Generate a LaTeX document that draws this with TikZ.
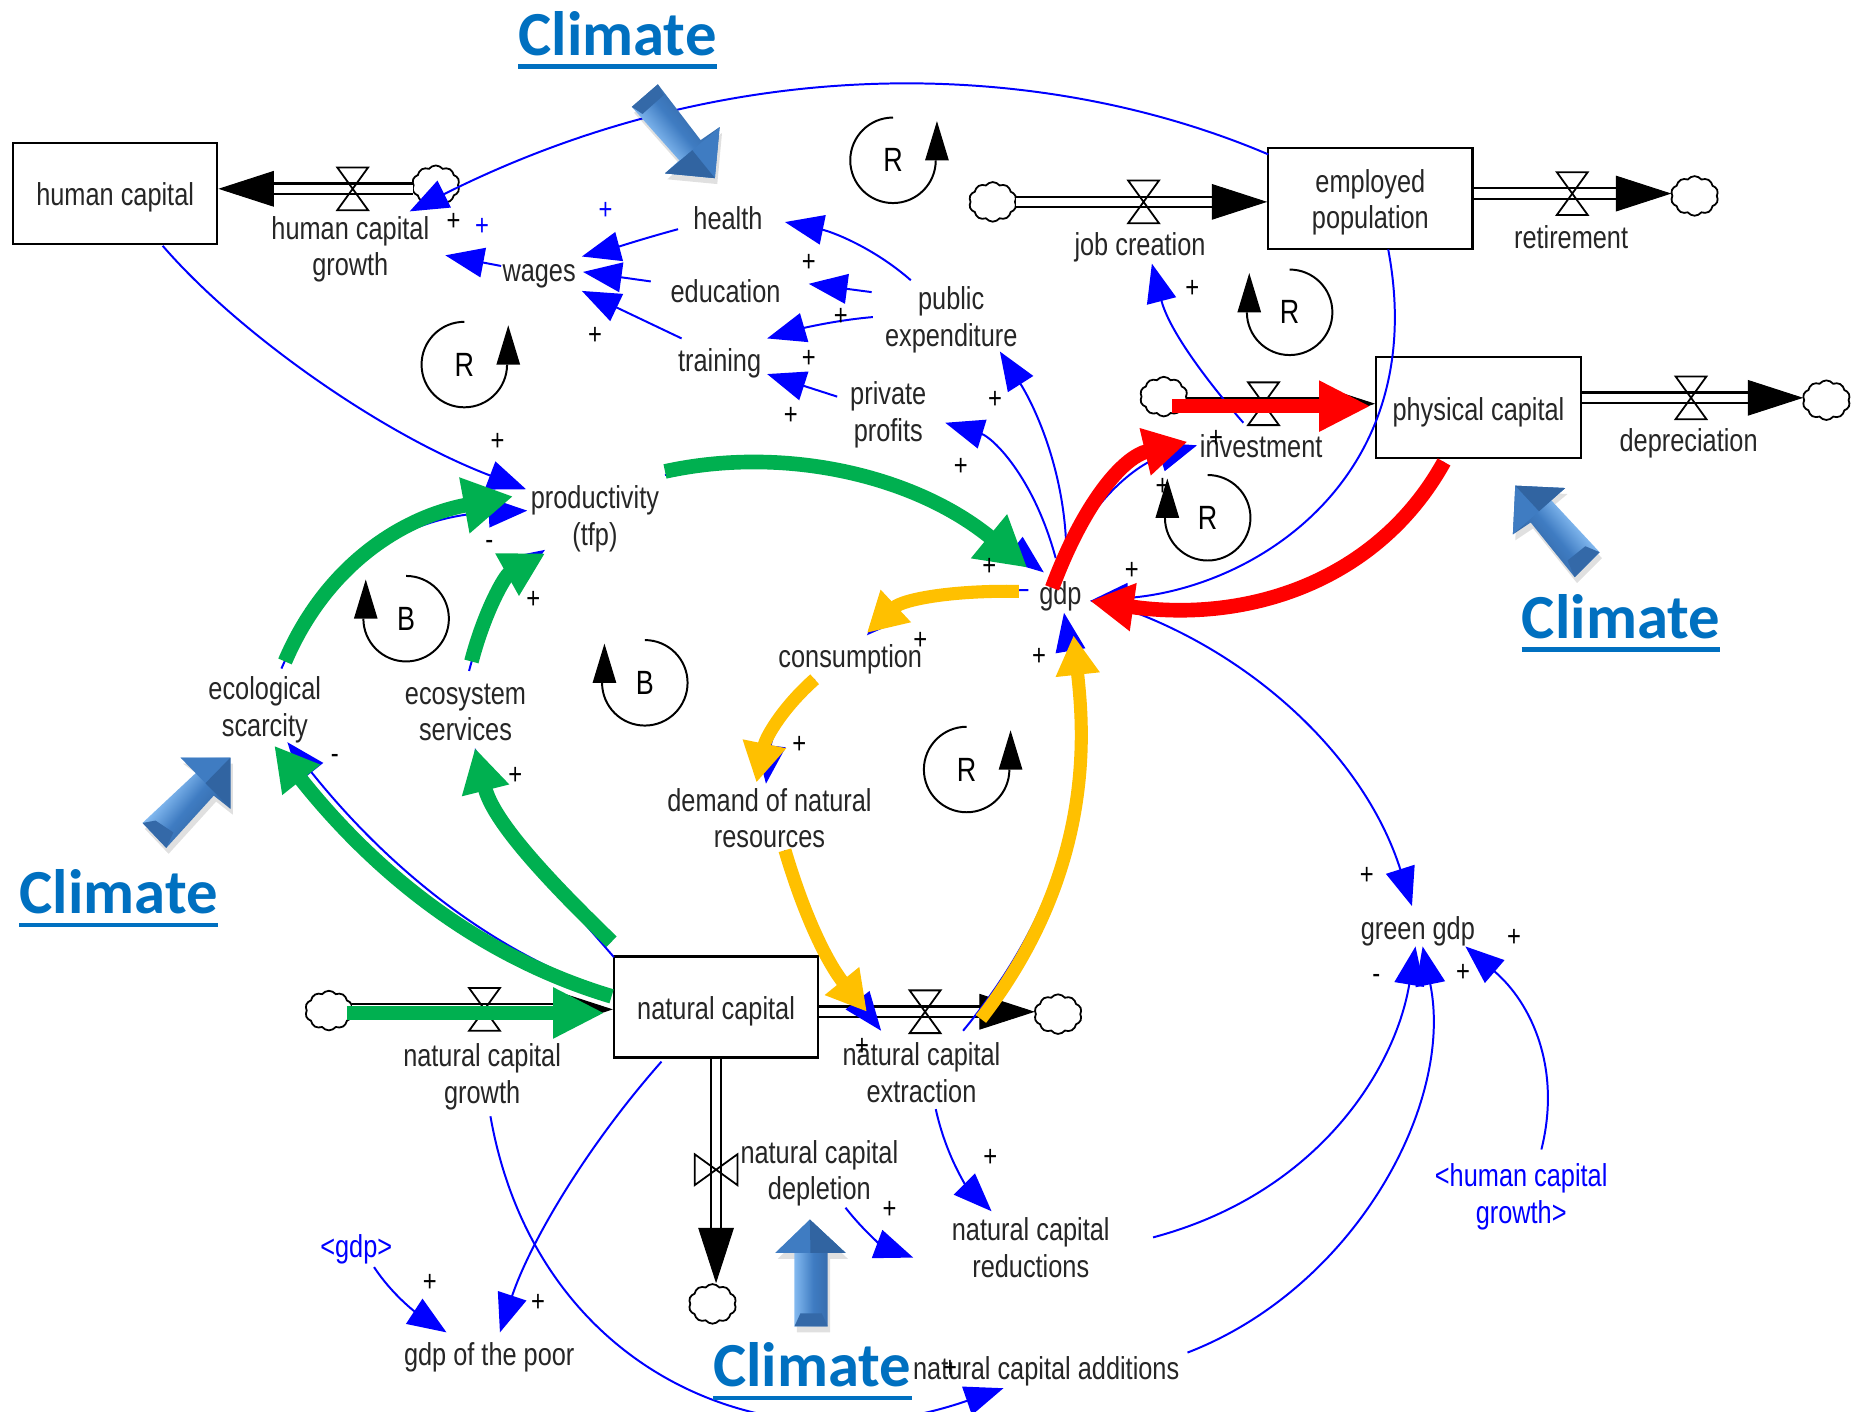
\documentclass[tikz,border=0pt]{standalone}
\usepackage{fontspec}
\setmainfont{Liberation Sans}
\newfontfamily\lblfont[FakeStretch=0.8]{Liberation Sans}
\newfontfamily\climfont{Carlito}
\usetikzlibrary{arrows.meta,calc,shapes.symbols}
\definecolor{cgreen}{HTML}{00B050}
\definecolor{cred}{HTML}{FF0000}
\definecolor{corange}{HTML}{FFC000}
\definecolor{climblue}{HTML}{0070C0}
\definecolor{adark}{HTML}{2C5C96}
\definecolor{amid}{HTML}{3F7CC2}
\definecolor{alight}{HTML}{86BCF2}
\pgfdeclarehorizontalshading{climshade}{100bp}{color(0bp)=(amid);color(25bp)=(amid);color(38bp)=(alight);color(52bp)=(amid);color(75bp)=(adark);color(100bp)=(adark)}
\tikzset{
  lbl/.style={font=\lblfont\fontsize{16}{18.6}\selectfont,align=center,inner sep=0pt,text=black!85},
  ghost/.style={lbl,text=blue},
  stock/.style={draw=black,line width=1.1pt,minimum width=103.2pt,minimum height=51pt,inner sep=0pt},
  sgn/.style={font=\lblfont\fontsize{15}{15}\selectfont,inner sep=0pt},
  bsgn/.style={sgn,text=blue},
  looplbl/.style={font=\lblfont\fontsize{17}{17}\selectfont,inner sep=0pt},
  loopline/.style={line width=1pt,draw=black},
  cloudnode/.style={cloud,cloud puffs=10,cloud puff arc=105,aspect=1.2,draw=black,fill=white,line width=.9pt,inner sep=0pt,minimum width=24pt,minimum height=20pt},
  flowline/.style={draw=black,line width=1.1pt,double=white,double distance=4.2pt,shorten >=20pt},
  flowtip/.style={draw=black,line width=.5pt,-{Triangle[length=28pt,width=18pt,fill=black]}},
  lnk/.style={draw=blue,line width=1pt,-{Triangle[length=19.5pt,width=15pt,fill=blue]}},
  thickgreen/.style={draw=cgreen,line width=7.4pt,-{Triangle[length=22pt,width=23pt,fill=cgreen]}},
  thickred/.style={draw=cred,line width=7.4pt,-{Triangle[length=22pt,width=23pt,fill=cred]}},
  thickor/.style={draw=corange,line width=6.6pt,-{Triangle[length=20pt,width=21pt,fill=corange]}},
  climlbl/.style={font=\climfont\bfseries\fontsize{31.7}{31.7}\selectfont,text=climblue,inner sep=0pt},
  climrule/.style={draw=climblue,line width=2.2pt},
  valvepic/.pic={\draw[line width=.9pt] (-13,-18) -- (13,-18) -- (-13,18) -- (13,18) -- cycle;},
  valverot/.pic={\draw[line width=.9pt] (-18,-13) -- (-18,13) -- (18,-13) -- (18,13) -- cycle;},
}
\newcommand\flowrun[2]{\coordinate (fa) at (#1); \coordinate (fb) at (#2);
  \draw[flowline] (fa) -- (fb);
  \draw[flowtip] ($(fb)!27pt!(fa)$) -- (fb);}
\newcommand\loopright[3]{\node[looplbl] (#1) at (#2) {#3};
  \draw[loopline] ($(#1)+(0,-36)$) arc[start angle=-90,end angle=-360,radius=36];
  \fill ($(#1)+(37,-33)$) -- ($(#1)+(47,0)$) -- ($(#1)+(27,0)$) -- cycle;}
\newcommand\loopleft[3]{\node[looplbl] (#1) at (#2) {#3};
  \draw[loopline] ($(#1)+(0,-36)$) arc[start angle=-90,end angle=180,radius=36];
  \fill ($(#1)+(-34,-33)$) -- ($(#1)+(-24,0)$) -- ($(#1)+(-44,0)$) -- cycle;}
% angle, outline, head H1/tip/H2, tail bevel
\newcommand\climarrow[6]{%
  \fill[black,opacity=.12,shift={(2,5)}] #2 -- cycle;
  \shade[shading=climshade,shading angle=#1] #2 -- cycle;
  \fill[amid] #3 -- #4 -- #5 -- cycle;
  \fill[adark!75!amid] #4 -- #5 -- ($#3!.5!#5$) -- cycle;
  \fill[adark!60!amid] #6 -- cycle;}
\newcommand\climtext[2]{\node[climlbl] (#1) at (#2) {Climate};
  \draw[climrule] ($(#1.south west)+(0,9)$) -- ($(#1.south east)+(0,9)$);}
\begin{document}
\begin{tikzpicture}[x=0.6pt,y=-0.6pt]
\useasboundingbox (0,0) rectangle (1568,1189);
\fill[white] (0,0) rectangle (1568,1189);
% stocks
\node[stock,label={[lbl,name=hcT,yshift=-1.8pt]center:human capital}] (hc) at (97,163) {};
\node[stock,label={[lbl,name=empT,yshift=-2pt]center:employed\\population}] (emp) at (1154,167) {};
\node[stock,label={[lbl,name=physT,yshift=-2.4pt]center:physical capital}] (phys) at (1245,343) {};
\node[stock,label={[lbl,name=natT,yshift=-2.4pt]center:natural capital}] (nat) at (603,848) {};
% clouds
\node[cloudnode] (c1) at (367,156) {};
\node[cloudnode] (c2) at (836,170) {};
\node[cloudnode] (c3) at (1427,165) {};
\node[cloudnode] (c4) at (980,334) {};
\node[cloudnode] (c5) at (1538,337) {};
\node[cloudnode] (c6) at (277,851) {};
\node[cloudnode] (c7) at (891,854) {};
\node[cloudnode] (c8) at (600,1098) {};
% labels
\node[lbl] (hcg) at (295,210) {human capital\\growth};
\node[lbl] (wages) at (454,233) {wages};
\node[lbl] (health) at (613,184) {health};
\node[lbl] (education) at (611,245) {education};
\node[lbl] (training) at (606,306) {training};
\node[lbl] (pubex) at (801,269) {public\\expenditure};
\node[lbl] (profits) at (748,349) {private\\profits};
\node[lbl] (job) at (960,208) {job creation};
\node[lbl] (retire) at (1323,200) {retirement};
\node[lbl] (invest) at (1062,376) {investment};
\node[lbl] (deprec) at (1422,373) {depreciation};
\node[lbl] (prod) at (501,437) {productivity\\(tfp)};
\node[lbl] (gdp) at (893,502) {gdp};
\node[lbl] (cons) at (716,555) {consumption};
\node[lbl] (demand) at (648,689) {demand of natural\\resources};
\node[lbl] (eco) at (223,598) {ecological\\scarcity};
\node[lbl] (ess) at (392,600) {ecosystem\\services};
\node[lbl] (green) at (1194,784) {green gdp};
\node[lbl] (ncg) at (406,907) {natural capital\\growth};
\node[lbl] (nce) at (776,903) {natural capital\\extraction};
\node[lbl] (ncd) at (690,988) {natural capital\\depletion};
\node[lbl] (ncr) at (868,1051) {natural capital\\reductions};
\node[lbl] (nca) at (881,1155) {natural capital additions};
\node[lbl] (gdpp) at (412,1143) {gdp of the poor};
\node[ghost] (ggdp) at (300,1052) {<gdp>};
\node[ghost] (ghc) at (1281,1008) {<human capital\\growth>};
% valves
\coordinate (v1) at (297,159);
\coordinate (v2) at (963,170);
\coordinate (v3) at (1324,163);
\coordinate (v4) at (1064,340);
\coordinate (v5) at (1424,335);
\coordinate (v6) at (408,850);
\coordinate (v7) at (779,852);
\coordinate (v8) at (603,985);
% material flows
\flowrun{c1.west |- v1}{hc.east |- v1}
\flowrun{c2.east |- v2}{emp.west |- v2}
\flowrun{emp.east |- v3}{c3.west |- v3}
\flowrun{c4.east |- v4}{phys.west |- v4}
\flowrun{phys.east |- v5}{c5.west |- v5}
\flowrun{c6.east |- v6}{nat.west |- v6}
\flowrun{nat.east |- v7}{c7.west |- v7}
\flowrun{v8 |- nat.south}{v8 |- c8.north}
\foreach \v in {v1,v2,v3,v4,v5,v6,v7} \pic at (\v) {valvepic};
\pic at (v8) {valverot};
% causal links
\draw[lnk] ($(emp)+(-86,-37)$) .. controls (880,50) and (620,40) .. ($(hcg)+(50,-32)$);
\draw[lnk] ($(hc)+(40,44)$) .. controls (200,280) and (320,365) .. ($(prod)+(-58,-25)$);
\draw[lnk] ($(health)+(-42,9)$) .. controls (545,200) and (520,208) .. ($(wages)+(36,-17)$);
\draw[lnk] ($(education)+(-63,-8)$) -- ($(wages)+(37,-4)$);
\draw[lnk] ($(training)+(-32,-21)$) -- ($(wages)+(36,12)$);
\draw[lnk] ($(wages)+(-32,-9)$) -- ($(hcg)+(80,5)$);
\draw[lnk] ($(pubex)+(-34,-33)$) .. controls (735,208) and (700,195) .. ($(health)+(48,3)$);
\draw[lnk] ($(pubex)+(-67,-23)$) -- ($(education)+(70,-6)$);
\draw[lnk] ($(pubex)+(-66,-2)$) .. controls (700,270) and (670,278) .. ($(training)+(40,-21)$);
\draw[lnk] ($(profits)+(-43,-15)$) -- ($(training)+(40,9)$);
\draw[lnk] ($(gdp)+(5,-24)$) .. controls (900,400) and (870,340) .. ($(pubex)+(41,27)$);
\draw[lnk] ($(gdp)+(-4,-32)$) .. controls (870,400) and (835,368) .. ($(profits)+(48,7)$);
\draw[lnk] ($(prod)+(59,-37)$) .. controls (660,378) and (780,405) .. ($(gdp)+(-14,-20)$);
\draw[lnk] ($(gdp)+(-7,-7)$) .. controls (915,420) and (960,390) .. ($(invest)+(-54,-1)$);
\draw[lnk] ($(invest)+(-15,-20)$) .. controls (1020,325) and (985,280) .. ($(job)+(10,14)$);
\draw[lnk] ($(phys)+(-29,46)$) .. controls (1160,490) and (1050,525) .. ($(gdp)+(25,4)$);
\draw[lnk] ($(emp)+(15,43)$) .. controls (1205,400) and (1060,495) .. ($(gdp)+(25,4)$);
\draw[lnk] ($(gdp)+(-27,-5)$) .. controls (800,497) and (760,505) .. ($(cons)+(14,-20)$);
\draw[lnk] ($(cons)+(-30,17)$) .. controls (660,595) and (650,620) .. ($(demand)+(-3,-29)$);
\draw[lnk] ($(demand)+(13,27)$) .. controls (680,780) and (705,820) .. ($(nce)+(-34,-35)$);
\draw[lnk] ($(nce)+(35,-35)$) .. controls (925,730) and (912,610) .. ($(gdp)+(3,14)$);
\draw[lnk] ($(nat)+(-88,-12)$) .. controls (395,795) and (310,710) .. ($(eco)+(19,27)$);
\draw[lnk] ($(nat)+(-86,-42)$) .. controls (455,735) and (415,690) .. ($(ess)+(8,30)$);
\draw[lnk] ($(eco)+(14,-35)$) .. controls (275,475) and (340,435) .. ($(prod)+(-57,-7)$);
\draw[lnk] ($(ess)+(3,-35)$) .. controls (408,515) and (425,485) .. ($(prod)+(-42,26)$);
\draw[lnk] ($(gdp)+(61,13)$) .. controls (1060,555) and (1150,640) .. ($(green)+(-5,-21)$);
\draw[lnk] ($(ncr)+(103,-9)$) .. controls (1110,1005) and (1175,900) .. ($(green)+(-2,13)$);
\draw[lnk] ($(nca)+(119,-16)$) .. controls (1140,1085) and (1225,930) .. ($(green)+(4,13)$);
\draw[lnk] ($(ghc)+(17,-40)$) .. controls (1315,900) and (1290,845) .. ($(green)+(40,13)$);
\draw[lnk] ($(nce)+(12,31)$) .. controls (797,975) and (815,1000) .. ($(ncr)+(-33,-31)$);
\draw[lnk] ($(ncd)+(22,29)$) .. controls (730,1040) and (745,1050) .. ($(ncr)+(-99,8)$);
\draw[lnk] ($(ggdp)+(15,15)$) .. controls (330,1090) and (350,1105) .. ($(gdpp)+(-36,-21)$);
\draw[lnk] ($(nat)+(-46,46)$) .. controls (490,970) and (445,1050) .. ($(gdpp)+(9,-21)$);
\draw[lnk] ($(ncg)+(7,33)$) .. controls (450,1150) and (640,1240) .. ($(nca)+(-36,14)$);
% highlighted links
\draw[thickgreen,-{Triangle[length=25pt,width=27pt,fill=cgreen]}] ($(prod)+(59,-40)$) .. controls (660,375) and (770,400) .. ($(gdp)+(-28,-24)$);
\draw[thickgreen] ($(nat)+(-88,-9)$) .. controls (385,800) and (300,715) .. ($(eco)+(8,30)$);
\draw[thickgreen] ($(nat)+(-88,-55)$) .. controls (455,735) and (415,690) .. ($(ess)+(8,30)$);
\draw[thickgreen,-{Triangle[length=25pt,width=27pt,fill=cgreen]}] ($(eco)+(17,-41)$) .. controls (275,475) and (340,435) .. ($(prod)+(-69,-19)$);
\draw[thickgreen] ($(ess)+(5,-43)$) .. controls (408,515) and (425,485) .. ($(prod)+(-42,29)$);
\draw[thickgreen,-{Triangle[length=26pt,width=24pt,fill=cgreen]}] ($(c6)+(15,2)$) -- ($(nat.west)+(-7,5)$);
\draw[thickred] ($(gdp)+(-7,-7)$) .. controls (912,425) and (945,385) .. ($(invest)+(-62,-4)$);
\draw[thickred] ($(phys)+(-29,46)$) .. controls (1160,490) and (1050,525) .. ($(gdp)+(25,4)$);
\draw[thickred,-{Triangle[length=26pt,width=24pt,fill=cred]}] ($(c4)+(7,8)$) -- ($(phys.west)+(-4,-1)$);
\draw[thickor] ($(gdp)+(-35,-4)$) .. controls (800,497) and (760,505) .. ($(cons)+(14,-22)$);
\draw[thickor] ($(cons)+(-30,17)$) .. controls (660,595) and (645,620) .. ($(demand)+(-11,-30)$);
\draw[thickor] ($(demand)+(13,27)$) .. controls (680,780) and (700,815) .. ($(nce)+(-46,-51)$);
\draw[thickor] ($(nce)+(50,-45)$) .. controls (925,730) and (912,610) .. ($(gdp)+(11,33)$);
% polarity signs
\foreach \x/\y [count=\i] in {382/187,501/283,681/221,708/267,681/302,666/350,419/372,838/337,809/393,1004/243,833/477,953/481,1024/370,979/410,449/505,775/540,875/553,673/627,434/653,1151/738,1232/819,1275/790,726/882,834/975,749/1019,362/1080,453/1097,800/1153}
  \node[sgn] (p\i) at (\x,\y) {+};
\node[bsgn] (q1) at (406,191) {+};
\node[bsgn] (q2) at (510,178) {+};
\node[sgn] (m1) at (412,459) {-};
\node[sgn] (m2) at (282,639) {-};
\node[sgn] (m3) at (1159,824) {-};
% loops
\loopright{L1}{752,135}{R}
\loopleft{L2}{1086,263}{R}
\loopright{L3}{391,307}{R}
\loopleft{L4}{1017,436}{R}
\loopleft{L5}{342,521}{B}
\loopleft{L6}{543,575}{B}
\loopright{L7}{814,648}{R}
% climate arrows
\climarrow{40}{(532,90) -- (554,71) -- (590,118) -- (606,107) -- (602,150) -- (560,146) -- (572,135)}{(606,107)}{(602,150)}{(560,146)}{(532,90) -- (554,71) -- (559,80) -- (541,96)}
\climarrow{220}{(1347,465) -- (1306,421) -- (1318,411) -- (1276,409) -- (1274,450) -- (1289,440) -- (1326,486)}{(1274,450)}{(1276,409)}{(1318,411)}{(1347,465) -- (1326,486) -- (1320,472) -- (1335,460)}
\climarrow{-40}{(120,693) -- (167,649) -- (152,638) -- (194,638) -- (194,681) -- (180,670) -- (140,714)}{(152,638)}{(194,638)}{(194,681)}{(120,693) -- (140,714) -- (146,701) -- (131,691)}
\climarrow{0}{(669,1117) -- (669,1055) -- (653,1055) -- (682,1027) -- (712,1055) -- (697,1055) -- (697,1117)}{(653,1055)}{(682,1027)}{(712,1055)}{(669,1117) -- (697,1117) -- (692,1106) -- (674,1106)}
\climtext{T1}{520,28}
\climtext{T2}{1365,519}
\climtext{T3}{100,751}
\climtext{T4}{684,1149}
\end{tikzpicture}
\end{document}
